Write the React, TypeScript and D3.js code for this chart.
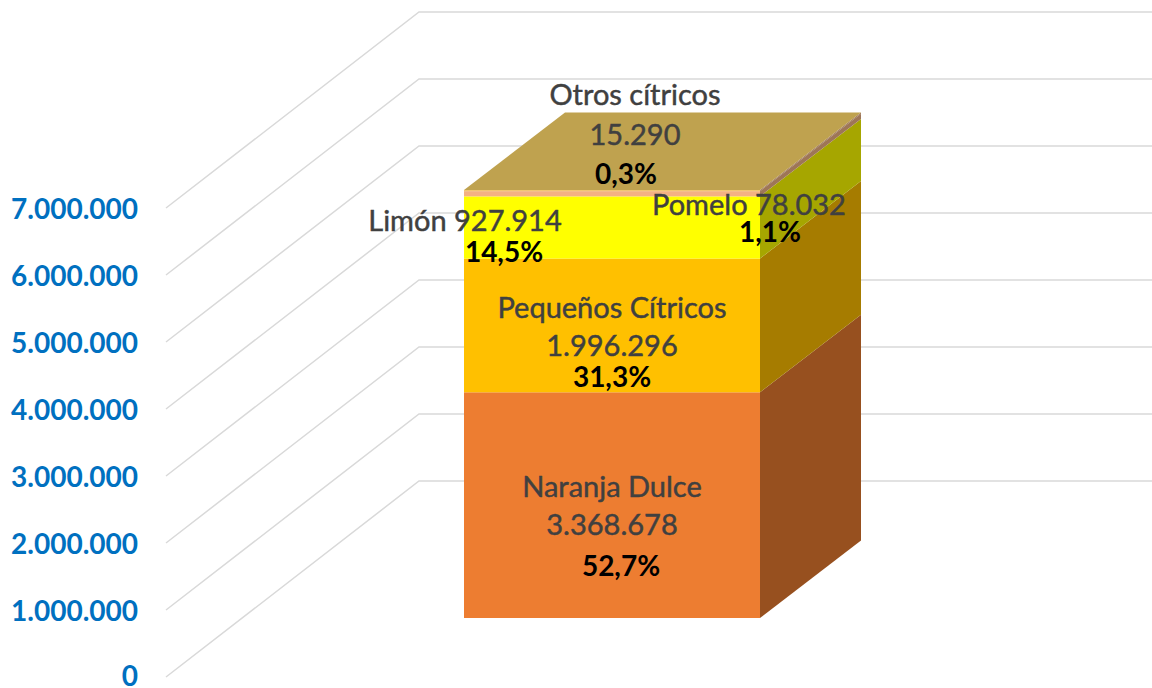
import React from "react";
import * as d3 from "d3";

const categories = ["Naranja Dulce", "Pequeños Cítricos", "Limón", "Pomelo", "Otros cítricos"];
const values = [3368678, 1996296, 927914, 78032, 15290];
const frontColors = ["#ED7D31", "#FFC000", "#FFFF00", "#F4B183", "#F0C060"];
const sideColors = ["#97501F", "#A67C00", "#A6A600", "#9E7657", "#9E7657"];
const topColor = "#BFA24F";
const axisTicks = [0, 1000000, 2000000, 3000000, 4000000, 5000000, 6000000, 7000000];
const axisLabels = ["0", "1.000.000", "2.000.000", "3.000.000", "4.000.000", "5.000.000", "6.000.000", "7.000.000"];

const valueLabels = ["3.368.678", "1.996.296", "", "", "15.290"];
const percentLabels = ["52,7%", "31,3%", "14,5%", "1,1%", "0,3%"];

const FONT = "Lato, 'Open Sans', sans-serif";
const GRID = "#D9D9D9";
const GREY = "#404040";

export default function App() {
  const yWall = d3.scaleLinear().domain([0, 7000000]).range([677, 208]);
  const wallDx = 253;
  const wallDy = -196;
  const yBar = d3.scaleLinear().domain([0, 7000000]).range([618, 149]);
  const x0 = 464;
  const x1 = 760;
  const dx = 101;
  const dy = -77.5;

  let acc = 0;
  const segs = values.map((v, i) => {
    const s = { y0: yBar(acc), y1: yBar(acc + v), i };
    acc += v;
    return s;
  });
  const yTop = yBar(acc);

  const line = d3.line();

  return (
    <svg
      width={1152}
      height={688}
      style={{ position: "absolute", left: 0, top: 0, background: "#fff", fontFamily: FONT }}
    >
      {axisTicks.map((t) => (
        <path
          key={t}
          fill="none"
          stroke={GRID}
          strokeWidth={1.5}
          d={
            line([
              [166, yWall(t)],
              [166 + wallDx, yWall(t) + wallDy],
              [1152, yWall(t) + wallDy],
            ]) as string
          }
        />
      ))}
      {axisTicks.map((t, i) => (
        <text
          key={t}
          x={138}
          y={yWall(t) + (t === 0 ? 9 : 11)}
          textAnchor="end"
          fontSize={28}
          fontWeight={700}
          fill="#0070C0"
        >
          {axisLabels[i]}
        </text>
      ))}

      {segs.map((s) => (
        <g key={s.i}>
          <rect x={x0} y={s.y1} width={x1 - x0} height={s.y0 - s.y1} fill={frontColors[s.i]} />
          <path
            fill={sideColors[s.i]}
            d={
              (line([
                [x1, s.y0],
                [x1 + dx, s.y0 + dy],
                [x1 + dx, s.y1 + dy],
                [x1, s.y1],
              ]) as string) + "Z"
            }
          />
        </g>
      ))}
      <path
        fill={topColor}
        d={
          (line([
            [x0, yTop],
            [x0 + dx, yTop + dy],
            [x1 + dx, yTop + dy],
            [x1, yTop],
          ]) as string) + "Z"
        }
      />

      <g fontSize={29} fill={GREY} stroke={GREY} strokeWidth={0.45} textAnchor="middle">
        <text x={612} y={318}>{categories[1]}</text>
        <text x={612} y={356}>{valueLabels[1]}</text>
        <text x={612} y={497}>{categories[0]}</text>
        <text x={612} y={535}>{valueLabels[0]}</text>
        <text x={465} y={231}>{`${categories[2]} 927.914`}</text>
        <text x={749} y={215}>{`${categories[3]} 78.032`}</text>
        <text x={635} y={105}>{categories[4]}</text>
        <text x={635} y={145}>{valueLabels[4]}</text>
      </g>
      <g fontSize={28} fontWeight={700} fill="#000" textAnchor="middle">
        <text x={621} y={576}>{percentLabels[0]}</text>
        <text x={612} y={387}>{percentLabels[1]}</text>
        <text x={504} y={262}>{percentLabels[2]}</text>
        <text x={770} y={242}>{percentLabels[3]}</text>
        <text x={626} y={184}>{percentLabels[4]}</text>
      </g>
    </svg>
  );
}
